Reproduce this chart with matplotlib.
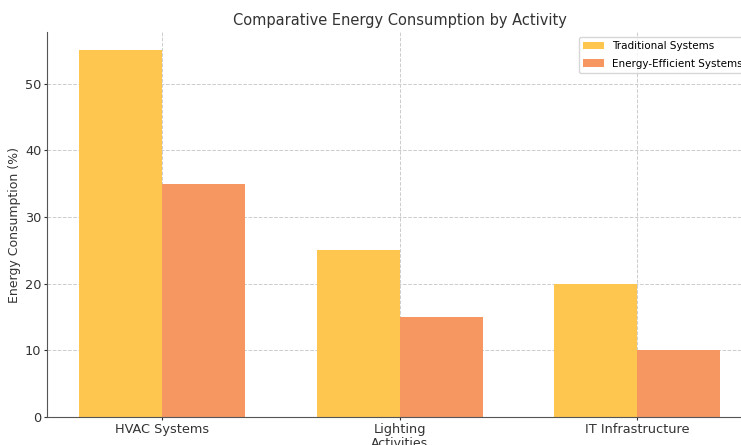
import matplotlib
matplotlib.use("Agg")
import matplotlib.pyplot as plt
import numpy as np

activities = ["HVAC Systems", "Lighting", "IT Infrastructure"]
traditional = [55, 25, 20]
efficient = [35, 15, 10]

x = np.arange(len(activities))
width = 0.35

fig = plt.figure(figsize=(7.41, 4.45), dpi=100)
ax = fig.add_axes([0.0634, 0.0629, 0.952, 0.865])

ax.bar(x - width / 2, traditional, width, label="Traditional Systems", color="#FFC64F")
ax.bar(x + width / 2, efficient, width, label="Energy-Efficient Systems", color="#F69762")

ax.set_title("Comparative Energy Consumption by Activity", fontsize=10.5,
             color="#333333", pad=5)
ax.set_xlabel("Activities", fontsize=9, color="#333333", labelpad=1)
ax.set_ylabel("Energy Consumption (%)", fontsize=9, color="#333333", labelpad=3)
ax.set_xticks(x)
ax.set_xticklabels(activities)
ax.tick_params(labelsize=9.3, colors="#333333", length=2.5, pad=1.5)
ax.grid(True, linestyle="--", color="#cccccc", linewidth=0.7)
ax.set_axisbelow(True)
for side in ["top", "right"]:
    ax.spines[side].set_visible(False)
for side in ["left", "bottom"]:
    ax.spines[side].set_color("#555555")
ax.legend(loc="upper right", fontsize=7.5, labelspacing=0.7)

fig.savefig("out.png", dpi=100)
